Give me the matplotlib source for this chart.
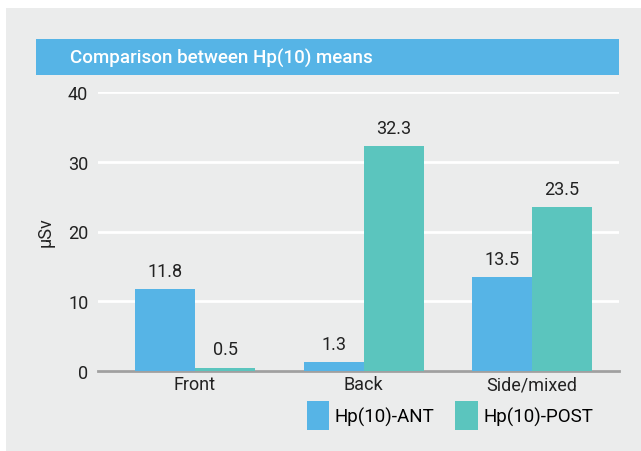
import matplotlib.pyplot as plt
import matplotlib.patches as patches
import numpy as np

categories = ['Front', 'Back', 'Side/mixed']
ant = [11.8, 1.3, 13.5]
post = [0.5, 32.3, 23.5]
series_names = ['Hp(10)-ANT', 'Hp(10)-POST']

c_ant = '#56b4e6'
c_post = '#5bc5be'
bg = '#ebecec'
W, H = 641, 452

plt.rcParams['font.family'] = ['Roboto', 'DejaVu Sans']

fig = plt.figure(figsize=(W / 100, H / 100), dpi=100)
fig.patch.set_facecolor('white')

# gray panel and title bar
fig.patches.append(patches.Rectangle((6 / W, 0), 1, (H - 9) / H, transform=fig.transFigure,
                                     facecolor=bg, edgecolor='none', zorder=-2))
fig.patches.append(patches.Rectangle((36 / W, (H - 76) / H), (619 - 36) / W, 36 / H,
                                     transform=fig.transFigure, facecolor=c_ant,
                                     edgecolor='none', zorder=-1))
fig.text(70 / W, (H - 58) / H, 'Comparison between Hp(10) means', color='white',
         fontsize=13.5, fontweight='medium', va='center', ha='left')

ax = fig.add_axes([98 / W, 80 / H, (619 - 98) / W, (359 - 80) / H])
ax.set_zorder(2)
ax.patch.set_alpha(0)

x = np.arange(len(categories))
bw = 0.356
b1 = ax.bar(x - bw / 2, ant, bw, color=c_ant, label=series_names[0], zorder=3)
b2 = ax.bar(x + bw / 2, post, bw, color=c_post, label=series_names[1], zorder=3)
for bars, vals in ((b1, ant), (b2, post)):
    for r, v in zip(bars, vals):
        ax.text(r.get_x() + r.get_width() / 2, v + 1.3, f'{v}', ha='center', va='bottom',
                fontsize=13, color='#222222')

ax.set_xlim(-0.576, 2.516)
ax.set_ylim(0, 40)
ax.set_yticks([0, 10, 20, 30, 40])
ax.yaxis.grid(True, color='white', linewidth=2, zorder=0)
ax.set_axisbelow(True)
for s in ['top', 'right', 'left']:
    ax.spines[s].set_visible(False)
ax.spines['bottom'].set_color('#a0a0a0')
ax.spines['bottom'].set_linewidth(2)
ax.tick_params(axis='both', length=0, labelsize=13, colors='#222222')
ax.tick_params(axis='x', pad=3)
ax.tick_params(axis='y', pad=7)
ax.set_xticks(x)
ax.set_xticklabels(categories)
ax.set_ylabel('µSv', fontsize=13, color='#222222', labelpad=10)

fig.legend(loc='lower left', bbox_to_anchor=(290 / W, 4 / H), ncol=2, frameon=False,
           fontsize=13.5, handlelength=1.2, handleheight=2.0, columnspacing=1.1,
           handletextpad=0.3)

fig.savefig('out.png', dpi=100, facecolor=fig.get_facecolor())
